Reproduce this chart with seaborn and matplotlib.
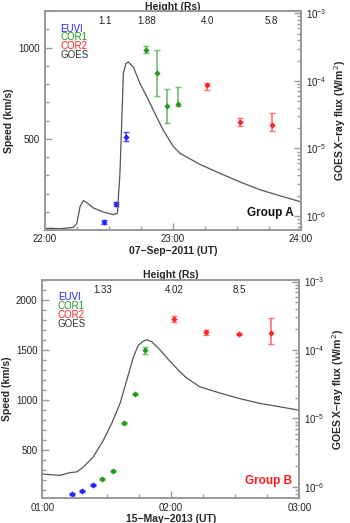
import numpy as np
import pandas as pd
import seaborn as sns
import matplotlib
matplotlib.use('Agg')
import matplotlib.pyplot as plt
from matplotlib.ticker import MultipleLocator, FixedLocator, NullFormatter, LogLocator

sns.set_style('ticks')
plt.rcParams['font.family'] = ['Liberation Sans', 'DejaVu Sans']

# ---- Group A : 07-Sep-2011, minutes after 22:00 ----
a_euvi_t = [27.9, 33.2, 38.0]
a_euvi_v = [45, 142, 511]
a_euvi_err = [13, 12, 25]
a_cor1_t = [47.4, 52.4, 57.4, 62.5]
a_cor1_v = [989, 860, 681, 690]
a_cor1_lo = [18, 128, 93, 8]
a_cor1_hi = [18, 128, 93, 95]
a_cor2_t = [76.1, 91.3, 106.4]
a_cor2_v = [793, 593, 575]
a_cor2_lo = [24, 21, 31]
a_cor2_hi = [13, 21, 64]
a_goes_t = [0, 2.5, 7.2, 13.4, 15.0, 16.5, 18.1, 19.7, 22.7, 27.4, 32.1, 34.0,
            35.2, 36.0, 36.8, 38.0, 39.1, 41.5, 44.6, 47.7, 50.8, 55.5, 60.2,
            63.3, 72.7, 82.0, 91.4, 100.8, 110.1, 120.0]
a_goes_f = [6.5e-7, 6.6e-7, 6.5e-7, 6.8e-7, 7.8e-7, 1.38e-6, 1.7e-6, 1.58e-6,
            1.32e-6, 1.15e-6, 1.05e-6, 1.1e-6, 4.3e-6, 2.3e-5, 1.3e-4, 1.8e-4,
            1.9e-4, 1.6e-4, 9.1e-5, 5.9e-5, 3.7e-5, 1.86e-5, 1.07e-5, 8.5e-6,
            5.8e-6, 4.3e-6, 3.2e-6, 2.45e-6, 2.0e-6, 1.62e-6]
a_height_t = [28.1, 47.7, 76.3, 106.2]
a_height_lbl = ['1.1', '1.88', '4.0', '5.8']
a_time_lbl = ['22:00', '23:00', '24:00']

# ---- Group B : 15-May-2013, minutes after 01:00 ----
b_euvi_t = [13.7, 18.7, 23.5]
b_euvi_v = [60, 93, 150]
b_euvi_err = [8, 8, 10]
b_cor1_t = [28.0, 33.0, 38.0, 43.2, 48.1]
b_cor1_v = [210, 290, 773, 1057, 1497]
b_cor1_lo = [10, 12, 10, 10, 33]
b_cor1_hi = [10, 12, 10, 10, 33]
b_cor2_t = [61.5, 76.4, 91.7, 106.8]
b_cor2_v = [1807, 1677, 1657, 1667]
b_cor2_lo = [33, 25, 8, 110]
b_cor2_hi = [33, 25, 8, 150]
b_goes_t = [0, 3.6, 8.3, 12.9, 16.1, 19.1, 23.8, 28.5, 32.4, 36.3, 39.4, 42.5,
            44.8, 47.2, 48.8, 51.1, 55.0, 59.7, 64.3, 67.4, 73.6, 83.0, 92.3,
            101.6, 111.0, 120.0]
b_goes_f = [1.55e-6, 1.51e-6, 1.48e-6, 1.62e-6, 1.66e-6, 1.95e-6, 2.75e-6,
            4.8e-6, 8.5e-6, 1.66e-5, 3.6e-5, 7.9e-5, 1.17e-4, 1.35e-4, 1.41e-4,
            1.32e-4, 1.0e-4, 6.8e-5, 4.8e-5, 3.9e-5, 2.9e-5, 2.35e-5, 1.95e-5,
            1.66e-5, 1.48e-5, 1.32e-5]
b_height_t = [28.2, 61.5, 92.0]
b_height_lbl = ['1.33', '4.02', '8.5']
b_time_lbl = ['01:00', '02:00', '03:00']

legend_lbl = ['EUVI', 'COR1', 'COR2', 'GOES']
legend_col = ['#2323ff', '#1f9a1f', '#ff2020', '#333333']
err_col = ['#4a4aff', '#6cbf6c', '#ff7070']

spine_col = '#9a9a9a'
fs = 7


def style_axis(ax):
    for s in ax.spines.values():
        s.set_color(spine_col)
        s.set_linewidth(1.3)
    ax.tick_params(which='both', direction='in', color=spine_col, labelsize=fs,
                   labelcolor='#222222', width=1.0)
    ax.tick_params(which='major', length=5)
    ax.tick_params(which='minor', length=3)


def panel(rect, series, goes_t, goes_f, ylim, yticks, flim, height_t, height_lbl,
          time_lbl, date_lbl, group_lbl, group_col):
    ax = fig.add_axes(rect)
    for i, (t, v, lo, hi) in enumerate(series):
        ax.errorbar(t, v, yerr=[lo, hi], fmt='none', ecolor=err_col[i],
                    elinewidth=1.2, capsize=2.5, capthick=1.0, zorder=3)
        df = pd.DataFrame({'t': t, 'v': v})
        sns.scatterplot(data=df, x='t', y='v', ax=ax, color=legend_col[i],
                        marker='D', s=10, linewidth=0, zorder=4)
    ax.set_xlim(0, 120)
    ax.set_ylim(*ylim)
    ax.set_xticks([0, 60, 120])
    ax.set_xticklabels(time_lbl)
    ax.xaxis.set_minor_locator(MultipleLocator(15))
    ax.set_yticks(yticks)
    ax.yaxis.set_minor_locator(MultipleLocator(100))
    ax.set_xlabel(date_lbl, fontsize=fs + 0.5, fontweight='bold', labelpad=1)
    ax.set_ylabel('Speed (km/s)', fontsize=fs + 0.5, fontweight='bold', labelpad=3)
    style_axis(ax)
    ax.tick_params(axis='x', pad=3)

    for k, (lbl, col) in enumerate(zip(legend_lbl, legend_col)):
        ax.text(0.06, 0.92 - k * 0.04, lbl, color=col, fontsize=fs,
                transform=ax.transAxes, va='center', ha='left')
    ax.text(0.88, 0.08, group_lbl, color=group_col, fontsize=8.5,
            fontweight='bold', transform=ax.transAxes, ha='center', va='center')

    axr = ax.twinx()
    gdf = pd.DataFrame({'t': goes_t, 'f': goes_f})
    sns.lineplot(data=gdf, x='t', y='f', ax=axr, color='#555555', linewidth=0.9)
    axr.set_yscale('log')
    axr.set_ylim(*flim)
    axr.set_xlim(0, 120)
    axr.yaxis.set_major_locator(LogLocator(base=10, numticks=10))
    axr.yaxis.set_minor_locator(LogLocator(base=10, subs=np.arange(2, 10), numticks=10))
    axr.yaxis.set_minor_formatter(NullFormatter())
    axr.set_xlabel('')
    axr.set_ylabel('GOES X\u2212ray flux (W/m$^2$)', fontsize=fs + 0.5,
                   fontweight='bold', labelpad=4)
    style_axis(axr)

    axt = ax.twiny()
    axt.set_xlim(0, 120)
    axt.xaxis.set_major_locator(FixedLocator(height_t))
    axt.set_xticklabels(height_lbl)
    axt.xaxis.set_minor_locator(FixedLocator([]))
    style_axis(axt)
    axt.tick_params(axis='x', length=0, pad=-11)
    axt.set_xlabel('Height (Rs)', fontsize=fs + 0.5, fontweight='bold', labelpad=1)
    return ax


fig = plt.figure(figsize=(3.5, 5.23), dpi=100)

panel([0.128, 0.560, 0.732, 0.419],
      [(a_euvi_t, a_euvi_v, a_euvi_err, a_euvi_err),
       (a_cor1_t, a_cor1_v, a_cor1_lo, a_cor1_hi),
       (a_cor2_t, a_cor2_v, a_cor2_lo, a_cor2_hi)],
      a_goes_t, a_goes_f, (0, 1200), [500, 1000], (6.2e-7, 1.08e-3),
      a_height_t, a_height_lbl, a_time_lbl, '07\u2212Sep\u22122011 (UT)',
      'Group A', '#111111')

panel([0.121, 0.047, 0.734, 0.418],
      [(b_euvi_t, b_euvi_v, b_euvi_err, b_euvi_err),
       (b_cor1_t, b_cor1_v, b_cor1_lo, b_cor1_hi),
       (b_cor2_t, b_cor2_v, b_cor2_lo, b_cor2_hi)],
      b_goes_t, b_goes_f, (17, 2200), [500, 1000, 1500, 2000], (6.8e-7, 1.06e-3),
      b_height_t, b_height_lbl, b_time_lbl, '15\u2212May\u22122013 (UT)',
      'Group B', '#ff1a1a')

fig.savefig('out.png', dpi=100)
